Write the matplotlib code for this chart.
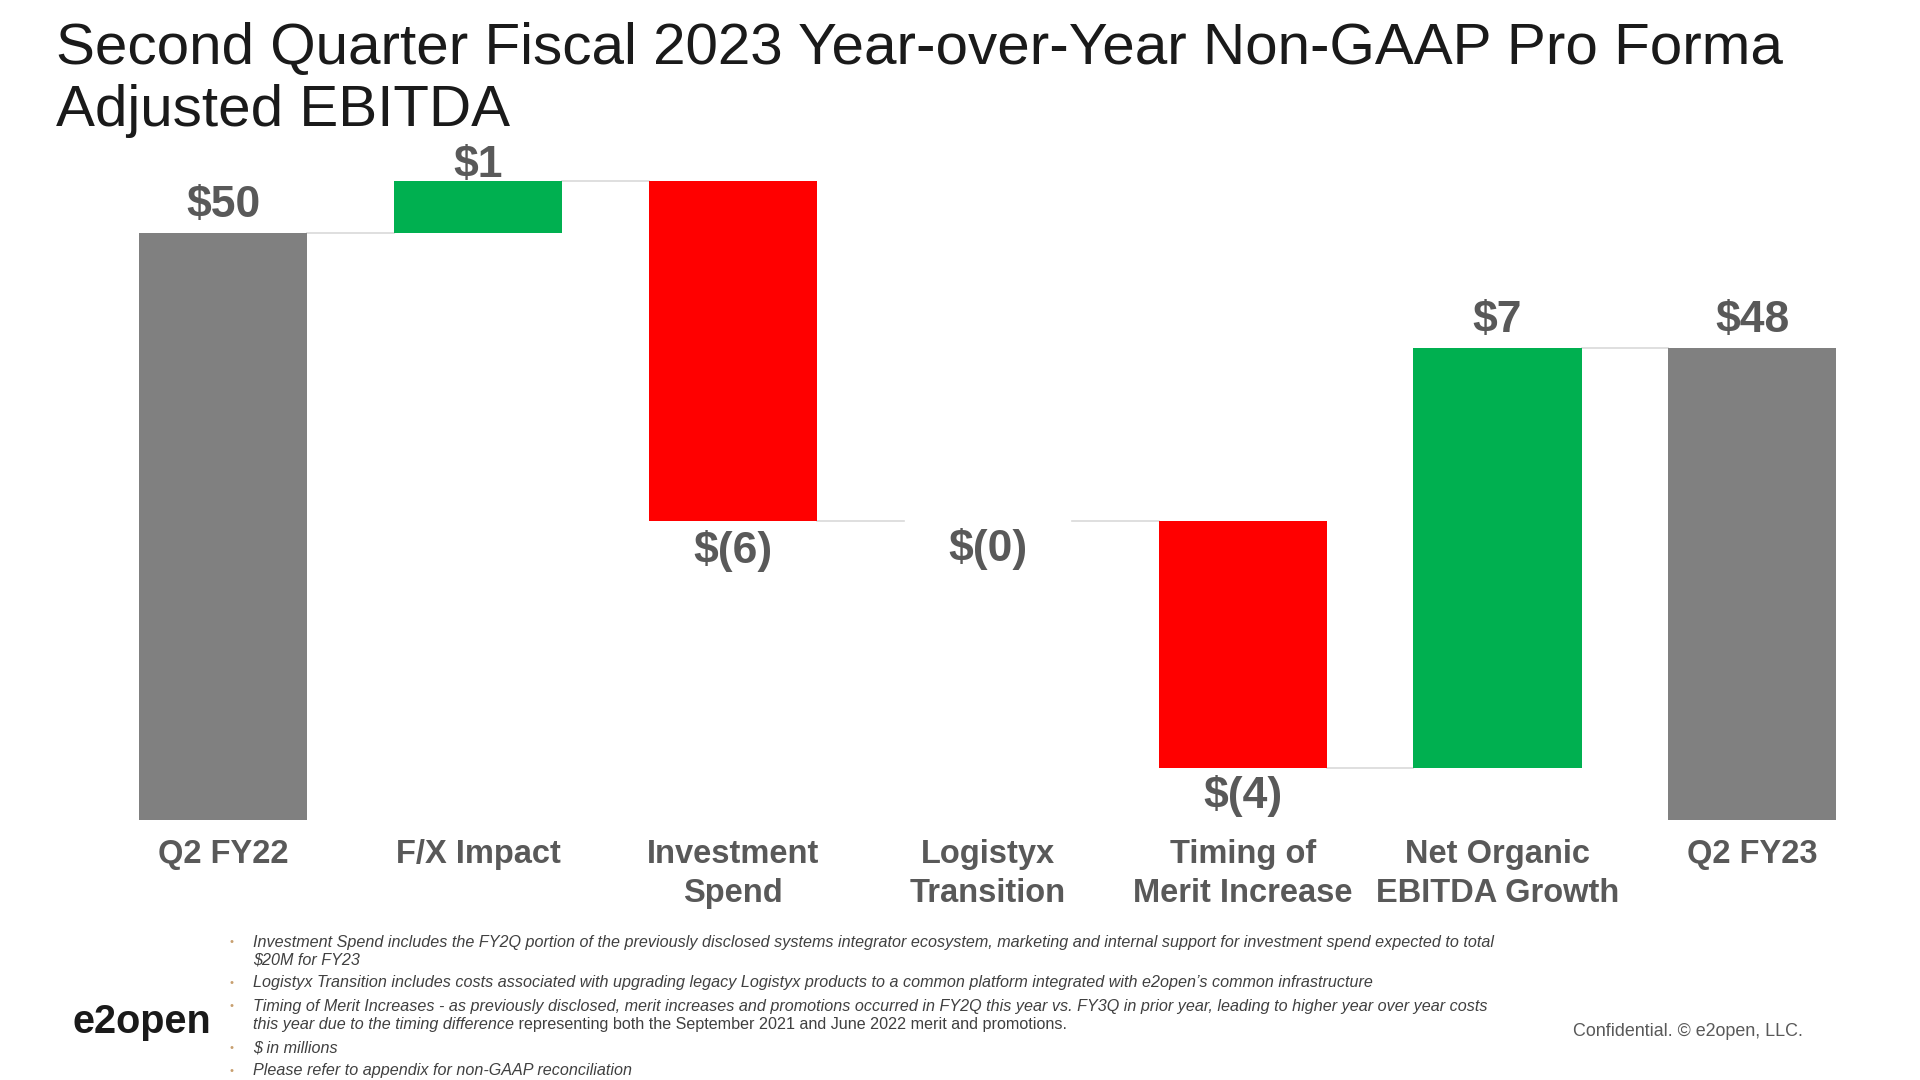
import matplotlib
matplotlib.use("Agg")
import matplotlib.pyplot as plt

plt.rcParams["font.family"] = ["Liberation Sans", "DejaVu Sans"]

# $ in millions (axis is truncated at 40)
categories = ["Q2 FY22", "F/X Impact", "Investment\nSpend", "Logistyx\nTransition",
              "Timing of\nMerit Increase", "Net Organic\nEBITDA Growth", "Q2 FY23"]
start_value = 50.2
changes = [0.9, -5.9, -0.004, -4.3, 7.3]
value_labels = ["$50", "$1", "$(6)", "$(0)", "$(4)", "$7", "$48"]

footnotes = [
    "Investment Spend includes the FY2Q portion of the previously disclosed systems integrator ecosystem, marketing and internal support for investment spend expected to total",
    "$20M for FY23",
    "Logistyx Transition includes costs associated with upgrading legacy Logistyx products to a common platform integrated with e2open\u2019s common infrastructure",
    "Timing of Merit Increases - as previously disclosed, merit increases and promotions occurred in FY2Q this year vs. FY3Q in prior year, leading to higher year over year costs",
    "this year due to the timing difference",
    "$ in millions",
    "Please refer to appendix for non-GAAP reconciliation",
]
footnote_tail = " representing both the September 2021 and June 2022 merit and promotions."

GRAY = "#808080"
GREEN = "#00B050"
RED = "#FF0000"
LABEL = "#595959"

# waterfall geometry
end_value = start_value + sum(changes)
bottoms, heights, colors = [0], [start_value], [GRAY]
level = start_value
for c in changes:
    bottoms.append(min(level, level + c))
    heights.append(abs(c))
    colors.append(GREEN if c > 0 else RED)
    level += c
bottoms.append(0)
heights.append(end_value)
colors.append(GRAY)

fig = plt.figure(figsize=(19.2, 10.8), dpi=100)
ax = fig.add_axes([0.050, 0.2407, 0.929, 0.640])
x = list(range(len(categories)))
width = 0.66
ax.bar(x, heights, bottom=bottoms, width=width, color=colors, linewidth=0, zorder=2)

# connectors
levels = [start_value]
for c in changes:
    levels.append(levels[-1] + c)
for i, lv in enumerate(levels):
    ax.plot([i + width / 2, i + 1 - width / 2], [lv, lv], color="#d9d9d9", lw=1.2, zorder=1)

# value labels
label_pad = [5, -4, 7, 5, 5, 5, 5]
for i, (b, h, txt) in enumerate(zip(bottoms, heights, value_labels)):
    negative = 0 < i < len(categories) - 1 and changes[i - 1] < 0
    if negative:
        ax.annotate(txt, (i, b), xytext=(0, -label_pad[i]), textcoords="offset points",
                    ha="center", va="top", fontsize=32, fontweight="bold", color=LABEL)
    else:
        ax.annotate(txt, (i, b + h), xytext=(0, label_pad[i]), textcoords="offset points",
                    ha="center", va="bottom", fontsize=32, fontweight="bold", color=LABEL,
                    zorder=3)

ax.set_xlim(-0.5, len(categories) - 0.5)
ax.set_ylim(40, 52)
ax.set_xticks(x)
ax.set_xticklabels(categories, fontsize=23.5, fontweight="bold", color=LABEL, linespacing=1.3)
ax.tick_params(axis="x", length=0, pad=14)
ax.set_yticks([])
for s in ax.spines.values():
    s.set_visible(False)

# title
fig.text(0.029, 1 - 64 / 1080, "Second Quarter Fiscal 2023 Year-over-Year Non-GAAP Pro Forma",
         fontsize=42, color="#1a1a1a", va="baseline", ha="left")
fig.text(0.029, 1 - 126 / 1080, "Adjusted EBITDA",
         fontsize=42, color="#1a1a1a", va="baseline", ha="left")

# footnotes
ys = [942, 960, 983, 1006, 1025, 1048, 1071]
bullet_rows = [0, 2, 3, 5, 6]
for j, (t, y) in enumerate(zip(footnotes, ys)):
    yf = 1 - y / 1080
    if j in bullet_rows:
        fig.text(230 / 1920, yf, "\u2022", fontsize=8, color="#c8a070", va="center", ha="left")
    tt = fig.text(253 / 1920, yf, t, fontsize=11.6, style="italic", color="#404040",
                  va="center", ha="left")
    if j == 4:
        ax.annotate(footnote_tail, xy=(1, 0), xycoords=tt, va="bottom", ha="left",
                    fontsize=11.6, color="#404040", annotation_clip=False)

fig.text(73 / 1920, 1 - 1022 / 1080, "e2open", fontsize=28.5, fontweight="bold",
         color="#1a1a1a", va="center", ha="left")
fig.text(1573 / 1920, 1 - 1031 / 1080, "Confidential. \u00a9 e2open, LLC.", fontsize=12.9,
         color="#595959", va="center", ha="left")

fig.savefig("out.png", dpi=100)
